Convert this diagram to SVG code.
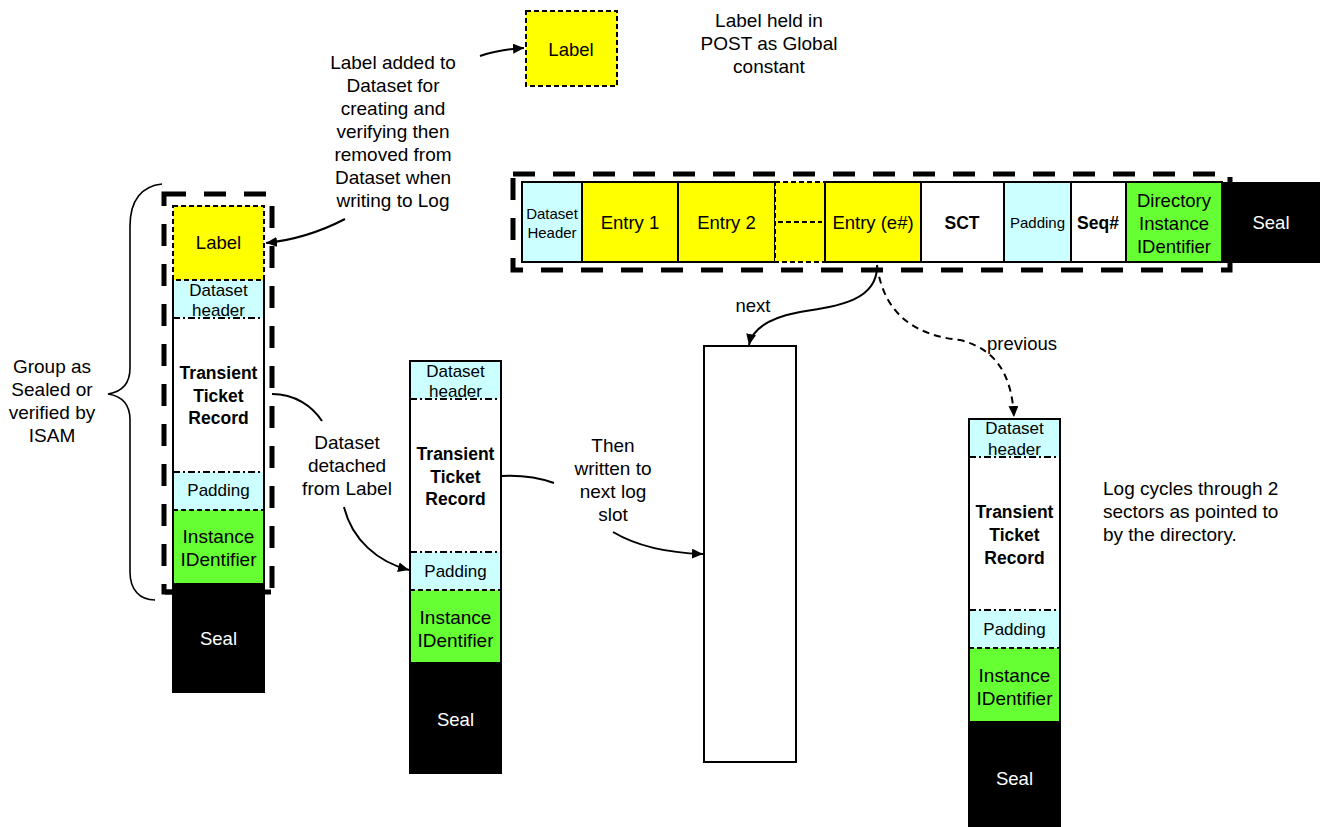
<svg xmlns="http://www.w3.org/2000/svg" width="1323" height="827" viewBox="0 0 1323 827">
<style>
text{font-family:"Liberation Sans",Arial,sans-serif;fill:#000;text-anchor:middle}
.a{font-size:19px}
.c{font-size:18.5px}
.s{font-size:15px}
.m{font-size:17px}
.b{font-weight:bold;font-size:17.5px}
.w{fill:#fff}
.l{text-anchor:start}
.yel{fill:#ffff00}
.cy{fill:#ccffff}
.gr{fill:#66ff33}
.bk{fill:#000}
.wh{fill:#fff}
.cell{stroke:#000;stroke-width:2}
.thick{fill:none;stroke:#000;stroke-width:5;stroke-dasharray:22 18}
.dash{stroke:#000;stroke-width:2;stroke-dasharray:5 3}
.dd{stroke:#000;stroke-width:2;stroke-dasharray:7 3 2 3;fill:none}
.side{stroke:#000;stroke-width:2;fill:none}
.conn{fill:none;stroke:#000;stroke-width:2}
</style>
<defs>
<marker id="arr" markerUnits="userSpaceOnUse" markerWidth="12" markerHeight="10" refX="11" refY="5" orient="auto">
<path d="M0,0 L11,5 L0,10 z" fill="#000"/>
</marker>
</defs>
<rect width="1323" height="827" fill="#fff"/>

<g id="global-label">
<rect x="526" y="11" width="91" height="75" class="yel dash"/>
<text class="c" x="571" y="56">Label</text>
</g>
<g id="note-global">
<text class="a" x="769" y="27">Label held in</text>
<text class="a" x="769" y="50">POST as Global</text>
<text class="a" x="769" y="73">constant</text>
</g>
<g id="note-label-added">
<text class="a" x="393" y="69">Label added to</text>
<text class="a" x="393" y="92">Dataset for</text>
<text class="a" x="393" y="115">creating and</text>
<text class="a" x="393" y="138">verifying then</text>
<text class="a" x="393" y="161">removed from</text>
<text class="a" x="393" y="184">Dataset when</text>
<text class="a" x="393" y="207">writing to Log</text>
</g>

<g id="log-record">
<rect x="513" y="174" width="717" height="96" class="thick"/>
<rect x="522" y="182" width="60" height="80" class="cy cell"/>
<rect x="582" y="182" width="96" height="80" class="yel cell"/>
<rect x="678" y="182" width="97" height="80" class="yel cell"/>
<rect x="775" y="182" width="50" height="80" class="yel dash"/>
<line x1="778" y1="222" x2="822" y2="222" class="dash"/>
<rect x="825" y="182" width="96" height="80" class="yel cell"/>
<rect x="921" y="182" width="83" height="80" class="wh cell"/>
<rect x="1004" y="182" width="67" height="80" class="cy cell"/>
<rect x="1071" y="182" width="55" height="80" class="wh cell"/>
<rect x="1126" y="182" width="96" height="80" class="gr cell"/>
<rect x="1222" y="182" width="98" height="81" class="bk"/>
<text class="s" x="552" y="219">Dataset</text>
<text class="s" x="552" y="238">Header</text>
<text class="c" x="630" y="229">Entry 1</text>
<text class="c" x="726.5" y="229">Entry 2</text>
<text class="c" x="873" y="229">Entry (e#)</text>
<text class="b" x="962" y="229">SCT</text>
<text class="s" x="1037.5" y="228">Padding</text>
<text class="b" x="1098" y="229">Seq#</text>
<text class="c" x="1174" y="207">Directory</text>
<text class="c" x="1174" y="230">Instance</text>
<text class="c" x="1174" y="253">IDentifier</text>
<text class="c w" x="1271" y="229">Seal</text>
</g>

<g id="dataset-with-label">
<rect x="164" y="194" width="108" height="398" class="thick"/>
<line x1="165" y1="592" x2="271" y2="592" stroke="#000" stroke-width="5"/>
<rect x="173" y="280" width="91" height="38" class="cy"/>
<rect x="173" y="318" width="91" height="154" class="wh"/>
<rect x="173" y="472" width="91" height="38" class="cy"/>
<rect x="173" y="510" width="91" height="73" class="gr"/>
<line x1="173" y1="280" x2="173" y2="583" class="side"/>
<line x1="264" y1="280" x2="264" y2="583" class="side"/>
<line x1="173" y1="318" x2="264" y2="318" class="dd"/>
<line x1="173" y1="472" x2="264" y2="472" class="dd"/>
<line x1="173" y1="510" x2="264" y2="510" class="dash"/>
<rect x="173" y="206" width="91" height="74" class="yel dash"/>
<rect x="172" y="583" width="93" height="110" class="bk"/>
<text class="c" x="218.5" y="249">Label</text>
<text class="m" x="218.5" y="296">Dataset</text>
<text class="m" x="218.5" y="316">header</text>
<text class="b" x="218.5" y="379">Transient</text>
<text class="b" x="218.5" y="402">Ticket</text>
<text class="b" x="218.5" y="424">Record</text>
<text class="m" x="218.5" y="496">Padding</text>
<text class="a" x="218.5" y="543">Instance</text>
<text class="a" x="218.5" y="566">IDentifier</text>
<text class="c w" x="218.5" y="645">Seal</text>
</g>

<g id="group-brace">
<path d="M162,184 C142,186 130,200 130,226 L130,368 C130,384 121,392 108,394 C121,396 130,404 130,420 L130,572 C130,590 140,600 155,600" fill="none" stroke="#000" stroke-width="1.6"/>
<text class="a" x="52" y="373">Group as</text>
<text class="a" x="52" y="396">Sealed or</text>
<text class="a" x="52" y="419">verified by</text>
<text class="a" x="52" y="442">ISAM</text>
</g>

<g id="dataset-detached">
<rect x="410" y="361" width="91" height="38" class="cy"/>
<rect x="410" y="399" width="91" height="153" class="wh"/>
<rect x="410" y="552" width="91" height="38" class="cy"/>
<rect x="410" y="590" width="91" height="73" class="gr"/>
<rect x="410" y="361" width="91" height="302" class="side"/>
<line x1="410" y1="399" x2="501" y2="399" class="dd"/>
<line x1="410" y1="552" x2="501" y2="552" class="dd"/>
<line x1="410" y1="590" x2="501" y2="590" class="dash"/>
<rect x="409" y="663" width="93" height="111" class="bk"/>
<text class="m" x="455.5" y="377">Dataset</text>
<text class="m" x="455.5" y="397">header</text>
<text class="b" x="455.5" y="460">Transient</text>
<text class="b" x="455.5" y="483">Ticket</text>
<text class="b" x="455.5" y="505">Record</text>
<text class="m" x="455.5" y="577">Padding</text>
<text class="a" x="455.5" y="624">Instance</text>
<text class="a" x="455.5" y="647">IDentifier</text>
<text class="c w" x="455.5" y="726">Seal</text>
</g>

<g id="next-log-slot">
<rect x="704" y="346" width="92" height="416" class="wh side"/>
</g>

<g id="previous-log-slot">
<rect x="969" y="419" width="91" height="38" class="cy"/>
<rect x="969" y="457" width="91" height="153" class="wh"/>
<rect x="969" y="610" width="91" height="38" class="cy"/>
<rect x="969" y="648" width="91" height="74" class="gr"/>
<rect x="969" y="419" width="91" height="303" class="side"/>
<line x1="969" y1="457" x2="1060" y2="457" class="dd"/>
<line x1="969" y1="610" x2="1060" y2="610" class="dd"/>
<line x1="969" y1="648" x2="1060" y2="648" class="dash"/>
<rect x="968" y="722" width="93" height="105" class="bk"/>
<text class="m" x="1014.5" y="434">Dataset</text>
<text class="m" x="1014.5" y="455">header</text>
<text class="b" x="1014.5" y="518">Transient</text>
<text class="b" x="1014.5" y="541">Ticket</text>
<text class="b" x="1014.5" y="564">Record</text>
<text class="m" x="1014.5" y="635">Padding</text>
<text class="a" x="1014.5" y="682">Instance</text>
<text class="a" x="1014.5" y="705">IDentifier</text>
<text class="c w" x="1014.5" y="785">Seal</text>
</g>

<g id="note-log-cycles">
<text class="a l" x="1103" y="495">Log cycles through 2</text>
<text class="a l" x="1103" y="518">sectors as pointed to</text>
<text class="a l" x="1103" y="541">by the directory.</text>
</g>

<g id="connectors">
<path class="conn" d="M480,56 C495,51 508,49 524,48" marker-end="url(#arr)"/>
<path class="conn" d="M345,219 C318,233 295,240 266,243" marker-end="url(#arr)"/>
<path class="conn" d="M877,265 C878,300 840,306 800,312 C768,318 752,330 749,345" marker-end="url(#arr)"/>
<path class="conn" d="M877,265 C884,318 920,336 960,340 C1000,350 1012,380 1014,417" stroke-dasharray="7 5" marker-end="url(#arr)"/>
<text class="c" x="753" y="312">next</text>
<text class="c" x="1022" y="350">previous</text>
<path class="conn" d="M272,394 C295,394 312,406 322,421"/>
<path class="conn" d="M344,507 C352,540 378,562 409,570" marker-end="url(#arr)"/>
<text class="a" x="347" y="449">Dataset</text>
<text class="a" x="347" y="472">detached</text>
<text class="a" x="347" y="495">from Label</text>
<path class="conn" d="M501,476 C520,475 540,478 554,483"/>
<path class="conn" d="M613,532 C640,548 670,553 703,554" marker-end="url(#arr)"/>
<text class="a" x="613" y="452">Then</text>
<text class="a" x="613" y="475">written to</text>
<text class="a" x="613" y="498">next log</text>
<text class="a" x="613" y="521">slot</text>
</g>
</svg>
